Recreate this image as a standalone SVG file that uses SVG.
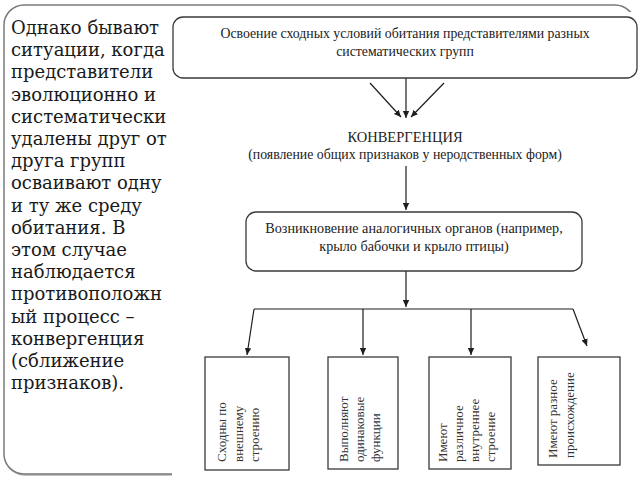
<svg xmlns="http://www.w3.org/2000/svg" width="640" height="480" viewBox="0 0 640 480">
<defs>
<marker id="ah" markerWidth="8" markerHeight="8" refX="7" refY="4" orient="auto" markerUnits="userSpaceOnUse">
<path d="M0,0.8 L7,4 L0,7.2 Z" fill="#1e1e1e"/>
</marker>
<style>
.side{font-family:"DejaVu Serif","Liberation Serif",serif;font-size:18px;fill:#1a1a1a}
.t{font-family:"Liberation Serif","Times New Roman",serif;font-size:13.8px;fill:#222;text-anchor:middle}
.v{font-family:"Liberation Serif","Times New Roman",serif;font-size:13px;fill:#333}
.box{fill:#fff;stroke:#3a3a3a;stroke-width:1.3}
.ln{fill:none;stroke:#1e1e1e;stroke-width:1.2}
.arr{fill:none;stroke:#1e1e1e;stroke-width:1.2;marker-end:url(#ah)}
</style>
</defs>
<rect width="640" height="480" fill="#fff"/>
<g id="frame">
<rect x="5" y="6" width="631" height="469" rx="20" fill="none" stroke="#555" stroke-opacity="0.35" stroke-width="2"/>
<rect x="4" y="5" width="631" height="469" rx="20" fill="#fff" stroke="#7a7a7a" stroke-width="1.5"/>
<rect x="172" y="12" width="468" height="468" fill="#fff"/>
</g>
<g id="side-text">
<text class="side" x="11" y="34">
<tspan x="11">Однако бывают</tspan>
<tspan x="11" dy="22.2">ситуации, когда</tspan>
<tspan x="11" dy="22.2">представители</tspan>
<tspan x="11" dy="22.2">эволюционно и</tspan>
<tspan x="11" dy="22.2">систематически</tspan>
<tspan x="11" dy="22.2">удалены друг от</tspan>
<tspan x="11" dy="22.2">друга групп</tspan>
<tspan x="11" dy="22.2">осваивают одну</tspan>
<tspan x="11" dy="22.2">и ту же среду</tspan>
<tspan x="11" dy="22.2">обитания. В</tspan>
<tspan x="11" dy="22.2">этом случае</tspan>
<tspan x="11" dy="22.2">наблюдается</tspan>
<tspan x="11" dy="22.2">противоположн</tspan>
<tspan x="11" dy="22.2">ый процесс –</tspan>
<tspan x="11" dy="22.2">конвергенция</tspan>
<tspan x="11" dy="22.2">(сближение</tspan>
<tspan x="11" dy="22.2">признаков).</tspan>
</text>
</g>
<g id="connectors">
<line class="arr" x1="406" y1="78" x2="406" y2="118"/>
<line class="arr" x1="370" y1="83" x2="401" y2="117"/>
<line class="arr" x1="444" y1="83" x2="411" y2="117"/>
<line class="arr" x1="406" y1="166" x2="406" y2="210"/>
<line class="arr" x1="406" y1="271" x2="406" y2="307"/>
<polyline class="ln" points="254,309 573,309"/>
<line class="arr" x1="254" y1="309" x2="247" y2="355"/>
<line class="arr" x1="363" y1="309" x2="363" y2="355"/>
<line class="arr" x1="471" y1="309" x2="471" y2="355"/>
<line class="arr" x1="573" y1="309" x2="587" y2="346"/>
</g>
<g id="node-habitat">
<rect class="box" x="173" y="17" width="464" height="61" rx="10"/>
<text class="t" x="405" y="38">Освоение сходных условий обитания представителями разных</text>
<text class="t" x="405" y="56">систематических групп</text>
</g>
<g id="node-convergence">
<text class="t" x="405" y="142" style="font-size:14.5px">КОНВЕРГЕНЦИЯ</text>
<text class="t" x="405" y="159">(появление общих признаков у неродственных форм)</text>
</g>
<g id="node-analog">
<rect class="box" x="246" y="212" width="336" height="59" rx="10"/>
<text class="t" x="414" y="233" style="font-size:14.2px">Возникновение аналогичных органов (например,</text>
<text class="t" x="414" y="251" style="font-size:14.2px">крыло бабочки и крыло птицы)</text>
</g>
<g id="node-similar">
<rect class="box" x="205" y="357" width="84" height="113"/>
<text class="v" transform="translate(226,462) rotate(-90)"><tspan x="0">Сходны по</tspan><tspan x="0" dy="17">внешнему</tspan><tspan x="0" dy="16">строению</tspan></text>
</g>
<g id="node-functions">
<rect class="box" x="328" y="357" width="70" height="112"/>
<text class="v" transform="translate(348,462) rotate(-90)"><tspan x="0">Выполняют</tspan><tspan x="0" dy="16">одинаковые</tspan><tspan x="0" dy="16">функции</tspan></text>
</g>
<g id="node-structure">
<rect class="box" x="429" y="357" width="82" height="112"/>
<text class="v" transform="translate(447,462) rotate(-90)"><tspan x="0">Имеют</tspan><tspan x="0" dy="16">различное</tspan><tspan x="0" dy="16">внутреннее</tspan><tspan x="0" dy="16">строение</tspan></text>
</g>
<g id="node-origin">
<rect class="box" x="538" y="357" width="82" height="108"/>
<text class="v" transform="translate(557,458) rotate(-90)"><tspan x="0">Имеют разное</tspan><tspan x="0" dy="17">происхождение</tspan></text>
</g>
</svg>
